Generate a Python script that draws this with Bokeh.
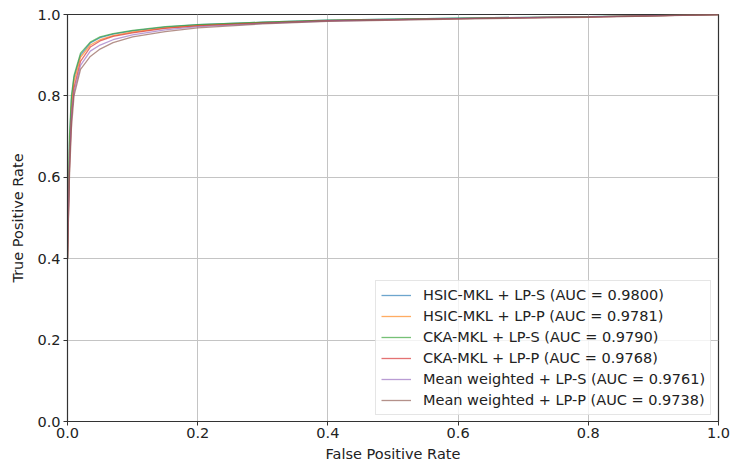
from bokeh.plotting import figure
from bokeh.models import Range1d, FixedTicker, Legend, LegendItem, PrintfTickFormatter
from bokeh.embed import file_html
from bokeh.resources import INLINE

# ---- data ----
fpr = [0.0, 0.003, 0.006, 0.01, 0.02, 0.035, 0.05, 0.07, 0.1, 0.15, 0.2, 0.3, 0.4, 0.6, 0.8, 1.0]

tpr_hsic_s = [0.40, 0.68, 0.79, 0.845, 0.900, 0.930, 0.943, 0.952, 0.960, 0.969, 0.975, 0.981, 0.986, 0.991, 0.995, 1.0]
tpr_hsic_p = [0.40, 0.66, 0.77, 0.835, 0.895, 0.925, 0.938, 0.948, 0.957, 0.967, 0.973, 0.980, 0.985, 0.990, 0.994, 1.0]
tpr_cka_s = [0.40, 0.70, 0.80, 0.850, 0.905, 0.932, 0.945, 0.953, 0.961, 0.970, 0.975, 0.981, 0.986, 0.991, 0.995, 1.0]
tpr_cka_p = [0.40, 0.62, 0.74, 0.820, 0.885, 0.920, 0.935, 0.946, 0.955, 0.966, 0.972, 0.979, 0.985, 0.990, 0.994, 1.0]
tpr_mean_s = [0.40, 0.63, 0.75, 0.810, 0.875, 0.910, 0.925, 0.938, 0.950, 0.962, 0.970, 0.978, 0.984, 0.990, 0.994, 1.0]
tpr_mean_p = [0.40, 0.60, 0.72, 0.800, 0.865, 0.897, 0.915, 0.931, 0.945, 0.958, 0.967, 0.977, 0.983, 0.989, 0.993, 1.0]

series_names = [
    "HSIC-MKL + LP-S (AUC = 0.9800)",
    "HSIC-MKL + LP-P (AUC = 0.9781)",
    "CKA-MKL + LP-S (AUC = 0.9790)",
    "CKA-MKL + LP-P (AUC = 0.9768)",
    "Mean weighted + LP-S (AUC = 0.9761)",
    "Mean weighted + LP-P (AUC = 0.9738)",
]
series_values = [tpr_hsic_s, tpr_hsic_p, tpr_cka_s, tpr_cka_p, tpr_mean_s, tpr_mean_p]
colors = ["#1f77b4", "#ff7f0e", "#2ca02c", "#d62728", "#9467bd", "#8c564b"]
ticks = [0.0, 0.2, 0.4, 0.6, 0.8, 1.0]

FONT = "DejaVu Sans"
FS = "14.5px"
TXT = "#222222"

p = figure(width=731, height=465, output_backend="svg", toolbar_location=None,
           x_range=Range1d(0, 1), y_range=Range1d(0, 1),
           min_border_left=67, min_border_right=13, min_border_top=14, min_border_bottom=44)

p.outline_line_color = "#333333"
p.outline_line_width = 1.2
p.background_fill_color = "white"
p.border_fill_color = "white"

for ax in (p.xaxis[0], p.yaxis[0]):
    ax.ticker = FixedTicker(ticks=ticks)
    ax.formatter = PrintfTickFormatter(format="%.1f")
    ax.major_tick_out = 4
    ax.major_tick_in = 0
    ax.minor_tick_line_color = None
    ax.axis_line_color = "#333333"
    ax.major_tick_line_color = "#333333"
    ax.major_label_text_font = FONT
    ax.major_label_text_font_size = FS
    ax.major_label_text_color = TXT
    ax.axis_label_text_font = FONT
    ax.axis_label_text_font_size = FS
    ax.axis_label_text_font_style = "normal"
    ax.axis_label_text_color = TXT

p.xaxis.axis_label = "False Positive Rate"
p.yaxis.axis_label = "True Positive Rate"
p.xaxis.major_label_standoff = 2
p.xaxis.axis_label_standoff = 5
p.yaxis.major_label_standoff = 3
p.yaxis.axis_label_standoff = 8

p.xgrid.ticker = FixedTicker(ticks=ticks)
p.ygrid.ticker = FixedTicker(ticks=ticks)
p.grid.grid_line_color = "#c4c4c4"
p.grid.grid_line_width = 1

items = []
for name, vals, c in zip(series_names, series_values, colors):
    r = p.line(fpr, vals, line_color=c, line_width=1.3, line_alpha=0.65)
    items.append(LegendItem(label=name, renderers=[r]))

legend = Legend(items=items, location=(308, 6))
legend.label_text_font = FONT
legend.label_text_font_size = FS
legend.label_text_color = TXT
legend.glyph_width = 30
legend.glyph_height = 18
legend.label_height = 18
legend.spacing = 3
legend.padding = 5
legend.margin = 0
legend.label_standoff = 12
legend.border_line_color = "#cccccc"
legend.border_line_width = 1
legend.background_fill_color = "white"
legend.background_fill_alpha = 0.8
p.add_layout(legend, "center")

open("out.html", "w").write(file_html(p, INLINE))
